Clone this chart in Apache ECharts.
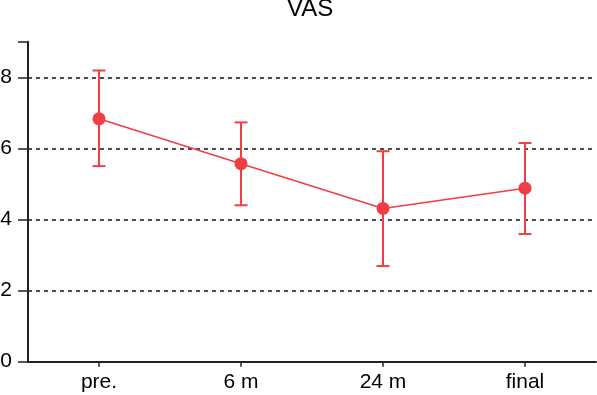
<!DOCTYPE html>
<html>
<head>
<meta charset="utf-8">
<script src="https://cdn.jsdelivr.net/npm/echarts@6/dist/echarts.min.js"></script>
<style>
  html, body { margin: 0; padding: 0; background: #fff; }
  #chart { width: 597px; height: 395px; }
</style>
</head>
<body>
<div id="chart"></div>
<script>
// VAS 各时间点均值及误差范围
const categories = ['pre.', '6 m', '24 m', 'final'];
const means = [6.83, 5.57, 4.31, 4.88];
const lowers = [5.50, 4.40, 2.69, 3.59];
const uppers = [8.19, 6.73, 5.92, 6.15];
const yTicks = [0, 2, 4, 6, 8];

const RED = '#f23d44';
const FONT = 'Liberation Sans, Arial, sans-serif';

const chart = echarts.init(document.getElementById('chart'));

// 误差线数据: [类目索引, 下限, 上限]
const errData = categories.map((c, i) => [i, lowers[i], uppers[i]]);

const option = {
    animation: false,
    title: {
        text: 'VAS',
        left: 287,
        top: -3,
        padding: 0,
        textStyle: { fontFamily: FONT, fontSize: 24, fontWeight: 'normal', color: '#000' }
    },
    grid: {
        left: 28,
        right: 1,
        top: 41.7,
        bottom: 33.3,
        containLabel: false,
        outerBoundsMode: 'none'
    },
    xAxis: {
        type: 'category',
        data: categories,
        boundaryGap: true,
        axisLine: { lineStyle: { color: '#222', width: 2 } },
        axisTick: { show: true, alignWithLabel: true, length: 5, lineStyle: { color: '#222', width: 1.5 } },
        axisLabel: { margin: 10, fontFamily: FONT, fontSize: 21, color: '#000' },
        splitLine: { show: false }
    },
    yAxis: {
        type: 'value',
        min: 0,
        max: 9,
        interval: 2,
        axisLine: { show: true, lineStyle: { color: '#222', width: 2 } },
        axisTick: { show: true, length: 10, lineStyle: { color: '#222', width: 1.5 } },
        axisLabel: { margin: 16, customValues: yTicks, fontFamily: FONT, fontSize: 21, color: '#000' },
        splitLine: {
            show: true,
            showMinLine: false,
            showMaxLine: false,
            lineStyle: { color: '#111', type: [4, 4], width: 1.5 }
        }
    },
    series: [
        {
            type: 'custom',
            z: 3,
            data: errData,
            renderItem: function (params, api) {
                const lo = api.coord([api.value(0), api.value(1)]);
                const hi = api.coord([api.value(0), api.value(2)]);
                const half = 6.5;
                const style = { stroke: RED, lineWidth: 2 };
                return {
                    type: 'group',
                    children: [
                        { type: 'line', shape: { x1: lo[0], y1: lo[1], x2: hi[0], y2: hi[1] }, style: style },
                        { type: 'line', shape: { x1: hi[0] - half, y1: hi[1], x2: hi[0] + half, y2: hi[1] }, style: style },
                        { type: 'line', shape: { x1: lo[0] - half, y1: lo[1], x2: lo[0] + half, y2: lo[1] }, style: style }
                    ]
                };
            }
        },
        {
            type: 'line',
            z: 4,
            data: means,
            symbol: 'circle',
            symbolSize: 13,
            itemStyle: { color: RED },
            lineStyle: { color: RED, width: 1.6 }
        }
    ]
};

chart.setOption(option);
</script>
</body>
</html>
